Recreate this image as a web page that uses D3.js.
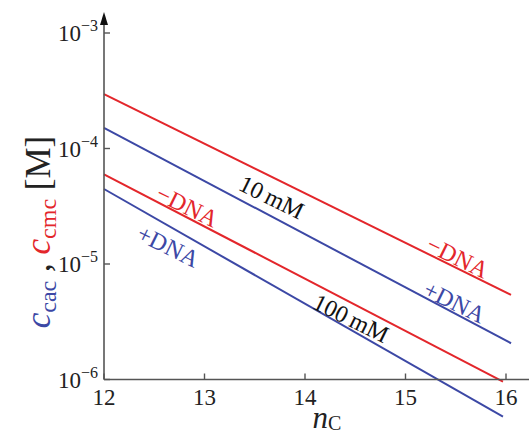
<!DOCTYPE html>
<html>
<head>
<meta charset="utf-8">
<script src="https://cdn.jsdelivr.net/npm/d3@7.9.0/dist/d3.min.js"></script>
<style>
  body { margin: 0; background: #fff; }
  svg { display: block; font-family: "Liberation Serif", serif; }
</style>
</head>
<body>
<svg width="529" height="437"></svg>
<script>
// chain length nC and concentrations [M] at line ends
const n10 = [12, 16.05];
const cmc10 = [2.96e-4, 5.4e-6];   // -DNA, 10 mM
const cac10 = [1.51e-4, 2.06e-6];  // +DNA, 10 mM
const n100 = [12, 15.97];
const cmc100 = [5.98e-5, 9.6e-7];  // -DNA, 100 mM
const cac100 = [4.46e-5, 4.76e-7]; // +DNA, 100 mM

const xTicks = [12, 13, 14, 15, 16];
const yTicks = [1e-6, 1e-5, 1e-4, 1e-3];

// annotations: [text, n, c, colour]
const labels = [
  ["10\u2009mM", 13.67, 3.8e-5, "#111"],
  ["\u2212DNA", 12.83, 3.18e-5, "#e3262b"],
  ["+DNA", 12.64, 1.43e-5, "#3c48a5"],
  ["100\u2009mM", 14.46, 3.4e-6, "#111"],
  ["\u2212DNA", 15.52, 1.15e-5, "#e3262b"],
  ["+DNA", 15.49, 4.7e-6, "#3c48a5"]
];

const red = "#e3262b", blue = "#3c48a5", axisCol = "#555";

const svg = d3.select("svg");
const x = d3.scaleLinear().domain([12, 16]).range([104, 506]);
const y = d3.scaleLog().domain([1e-6, 1e-3]).range([379.5, 33]);

const line = d3.line().x(d => x(d[0])).y(d => y(d[1]));
const series = [
  [n10, cmc10, red], [n10, cac10, blue],
  [n100, cmc100, red], [n100, cac100, blue]
];
series.forEach(([ns, cs, col]) => {
  svg.append("path")
    .attr("d", line(ns.map((n, i) => [n, cs[i]])))
    .attr("fill", "none")
    .attr("stroke", col)
    .attr("stroke-width", 2);
});

// axes
svg.append("line").attr("x1", x(12)).attr("x2", 540)
  .attr("y1", y(1e-6)).attr("y2", y(1e-6))
  .attr("stroke", axisCol).attr("stroke-width", 1.6);
svg.append("line").attr("x1", x(12)).attr("x2", x(12))
  .attr("y1", y(1e-6)).attr("y2", 20)
  .attr("stroke", axisCol).attr("stroke-width", 1.6);
svg.append("path")
  .attr("d", `M${x(12)},12 L${x(12) - 4},25 L${x(12) + 4},25 Z`)
  .attr("fill", "#111");

xTicks.forEach(t => {
  svg.append("line").attr("x1", x(t)).attr("x2", x(t))
    .attr("y1", y(1e-6)).attr("y2", y(1e-6) - 6)
    .attr("stroke", axisCol).attr("stroke-width", 1.4);
  svg.append("text").attr("x", x(t)).attr("y", 405)
    .attr("text-anchor", "middle").attr("font-size", 23).attr("fill", "#222")
    .text(t);
});

yTicks.forEach(t => {
  svg.append("line").attr("x1", x(12)).attr("x2", x(12) + 6)
    .attr("y1", y(t)).attr("y2", y(t))
    .attr("stroke", axisCol).attr("stroke-width", 1.4);
  const tx = svg.append("text").attr("x", 98).attr("y", y(t) + 8)
    .attr("text-anchor", "end").attr("font-size", 23).attr("fill", "#222");
  tx.append("tspan").text("10");
  tx.append("tspan").attr("font-size", 16).attr("dy", -10)
    .text("\u2212" + Math.round(-Math.log10(t)));
});

// annotations along the lines
const ang = Math.atan2(y(cmc10[1]) - y(cmc10[0]), x(n10[1]) - x(n10[0])) * 180 / Math.PI;
labels.forEach(([txt, n, c, col]) => {
  svg.append("text")
    .attr("transform", `translate(${x(n)},${y(c)}) rotate(${ang})`)
    .attr("text-anchor", "middle").attr("dy", "0.35em")
    .attr("font-size", 24).attr("fill", col)
    .text(txt);
});

// y label
const yl = svg.append("text")
  .attr("transform", "translate(50,232) rotate(-90)")
  .attr("text-anchor", "middle").attr("font-size", 35);
yl.append("tspan").attr("fill", blue).attr("font-style", "italic").text("c");
yl.append("tspan").attr("fill", blue).attr("font-size", 24).attr("dy", 6).text("cac");
yl.append("tspan").attr("fill", "#222").attr("dy", -6).text(" , ");
yl.append("tspan").attr("fill", red).attr("font-style", "italic").text("c");
yl.append("tspan").attr("fill", red).attr("font-size", 24).attr("dy", 6).text("cmc");
yl.append("tspan").attr("fill", "#222").attr("dy", -6).text(" [M]");

// x label
const xl = svg.append("text").attr("x", 327).attr("y", 428)
  .attr("text-anchor", "middle").attr("font-size", 31).attr("fill", "#222");
xl.append("tspan").attr("font-style", "italic").text("n");
xl.append("tspan").attr("font-size", 20).attr("dy", 2).text("C");
</script>
</body>
</html>
